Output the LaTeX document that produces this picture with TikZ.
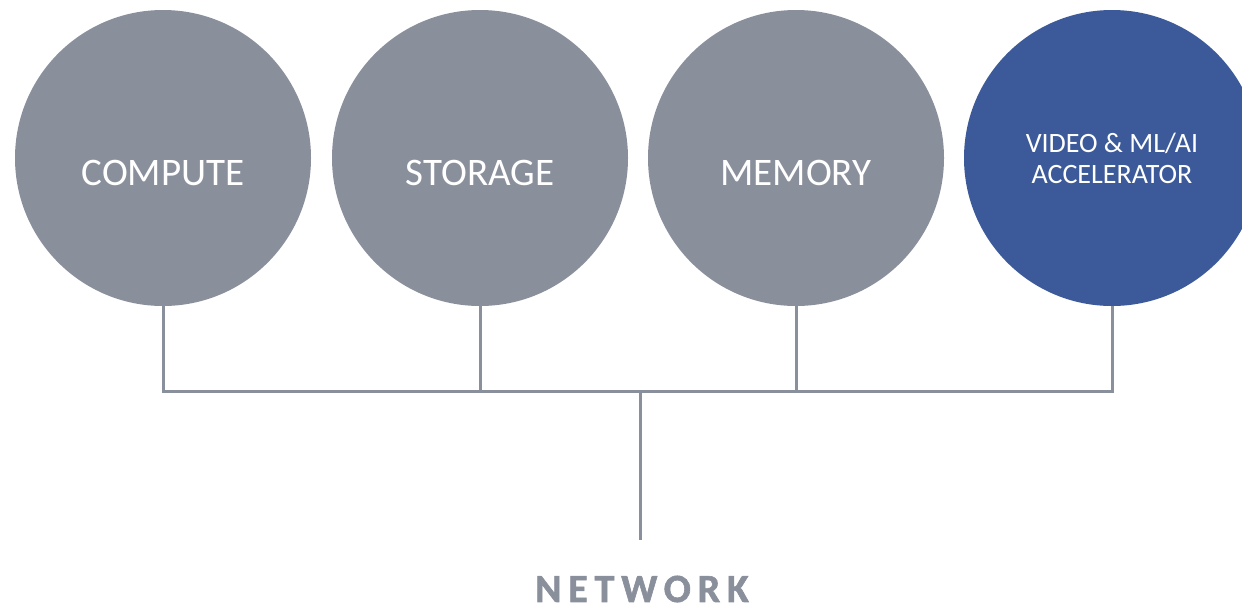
\documentclass[tikz,border=0pt]{standalone}
\usepackage{fontspec}
\setmainfont{Carlito}
\newfontfamily\netfont[LetterSpace = 17, FakeBold = 1.5]{Carlito Bold}
\usepackage{tikz}
\usetikzlibrary{shapes.geometric}

\definecolor{resgray}{HTML}{8A8F9C}
\definecolor{resblue}{HTML}{3C5A99}

\begin{document}
\begin{tikzpicture}[x=1pt, y=-1pt]
	\tikzstyle{res} = [circle, minimum size = 296pt, inner sep = 0pt, fill = resgray, text = white, text height = 54pt, text depth = 0pt, font = \fontsize{39}{47}\selectfont]
	\tikzstyle{link} = [line width = 3pt, draw = resgray]
	\clip (0, 0) rectangle (1242, 611);
	\useasboundingbox (0, 0) rectangle (1242, 611);
	
	\node[res] at (163, 158) (compute) {COMPUTE};
	\node[res] at (480, 158) (storage) {STORAGE};
	\node[res] at (796, 158) (memory) {MEMORY};
	\node[res, fill = resblue, align = center, text height = , text depth = , font = \fontsize{28}{31}\selectfont] at (1112, 158) (accel) {VIDEO \& ML/AI\\ACCELERATOR};
	
	\coordinate (busL) at (160, 391);
	\coordinate (busR) at (1113, 391);
	\coordinate (trunk) at (640, 391);
	\coordinate (trunkend) at (640, 540);
	
	\node[text = resgray, font = \netfont\fontsize{40}{46}\selectfont] at (642, 589) (network) {NETWORK};
	
	\draw[link] (compute.south) -- (compute.south |- busL);
	\draw[link] (storage.south) -- (storage.south |- busL);
	\draw[link] (memory.south) -- (memory.south |- busL);
	\draw[link] (accel.south) -- (accel.south |- busL);
	
	\draw[link, line cap = rect] (compute.south |- busL) -- (accel.south |- busR);
	\draw[link] (trunk) -- (trunkend);
\end{tikzpicture}
\end{document}
